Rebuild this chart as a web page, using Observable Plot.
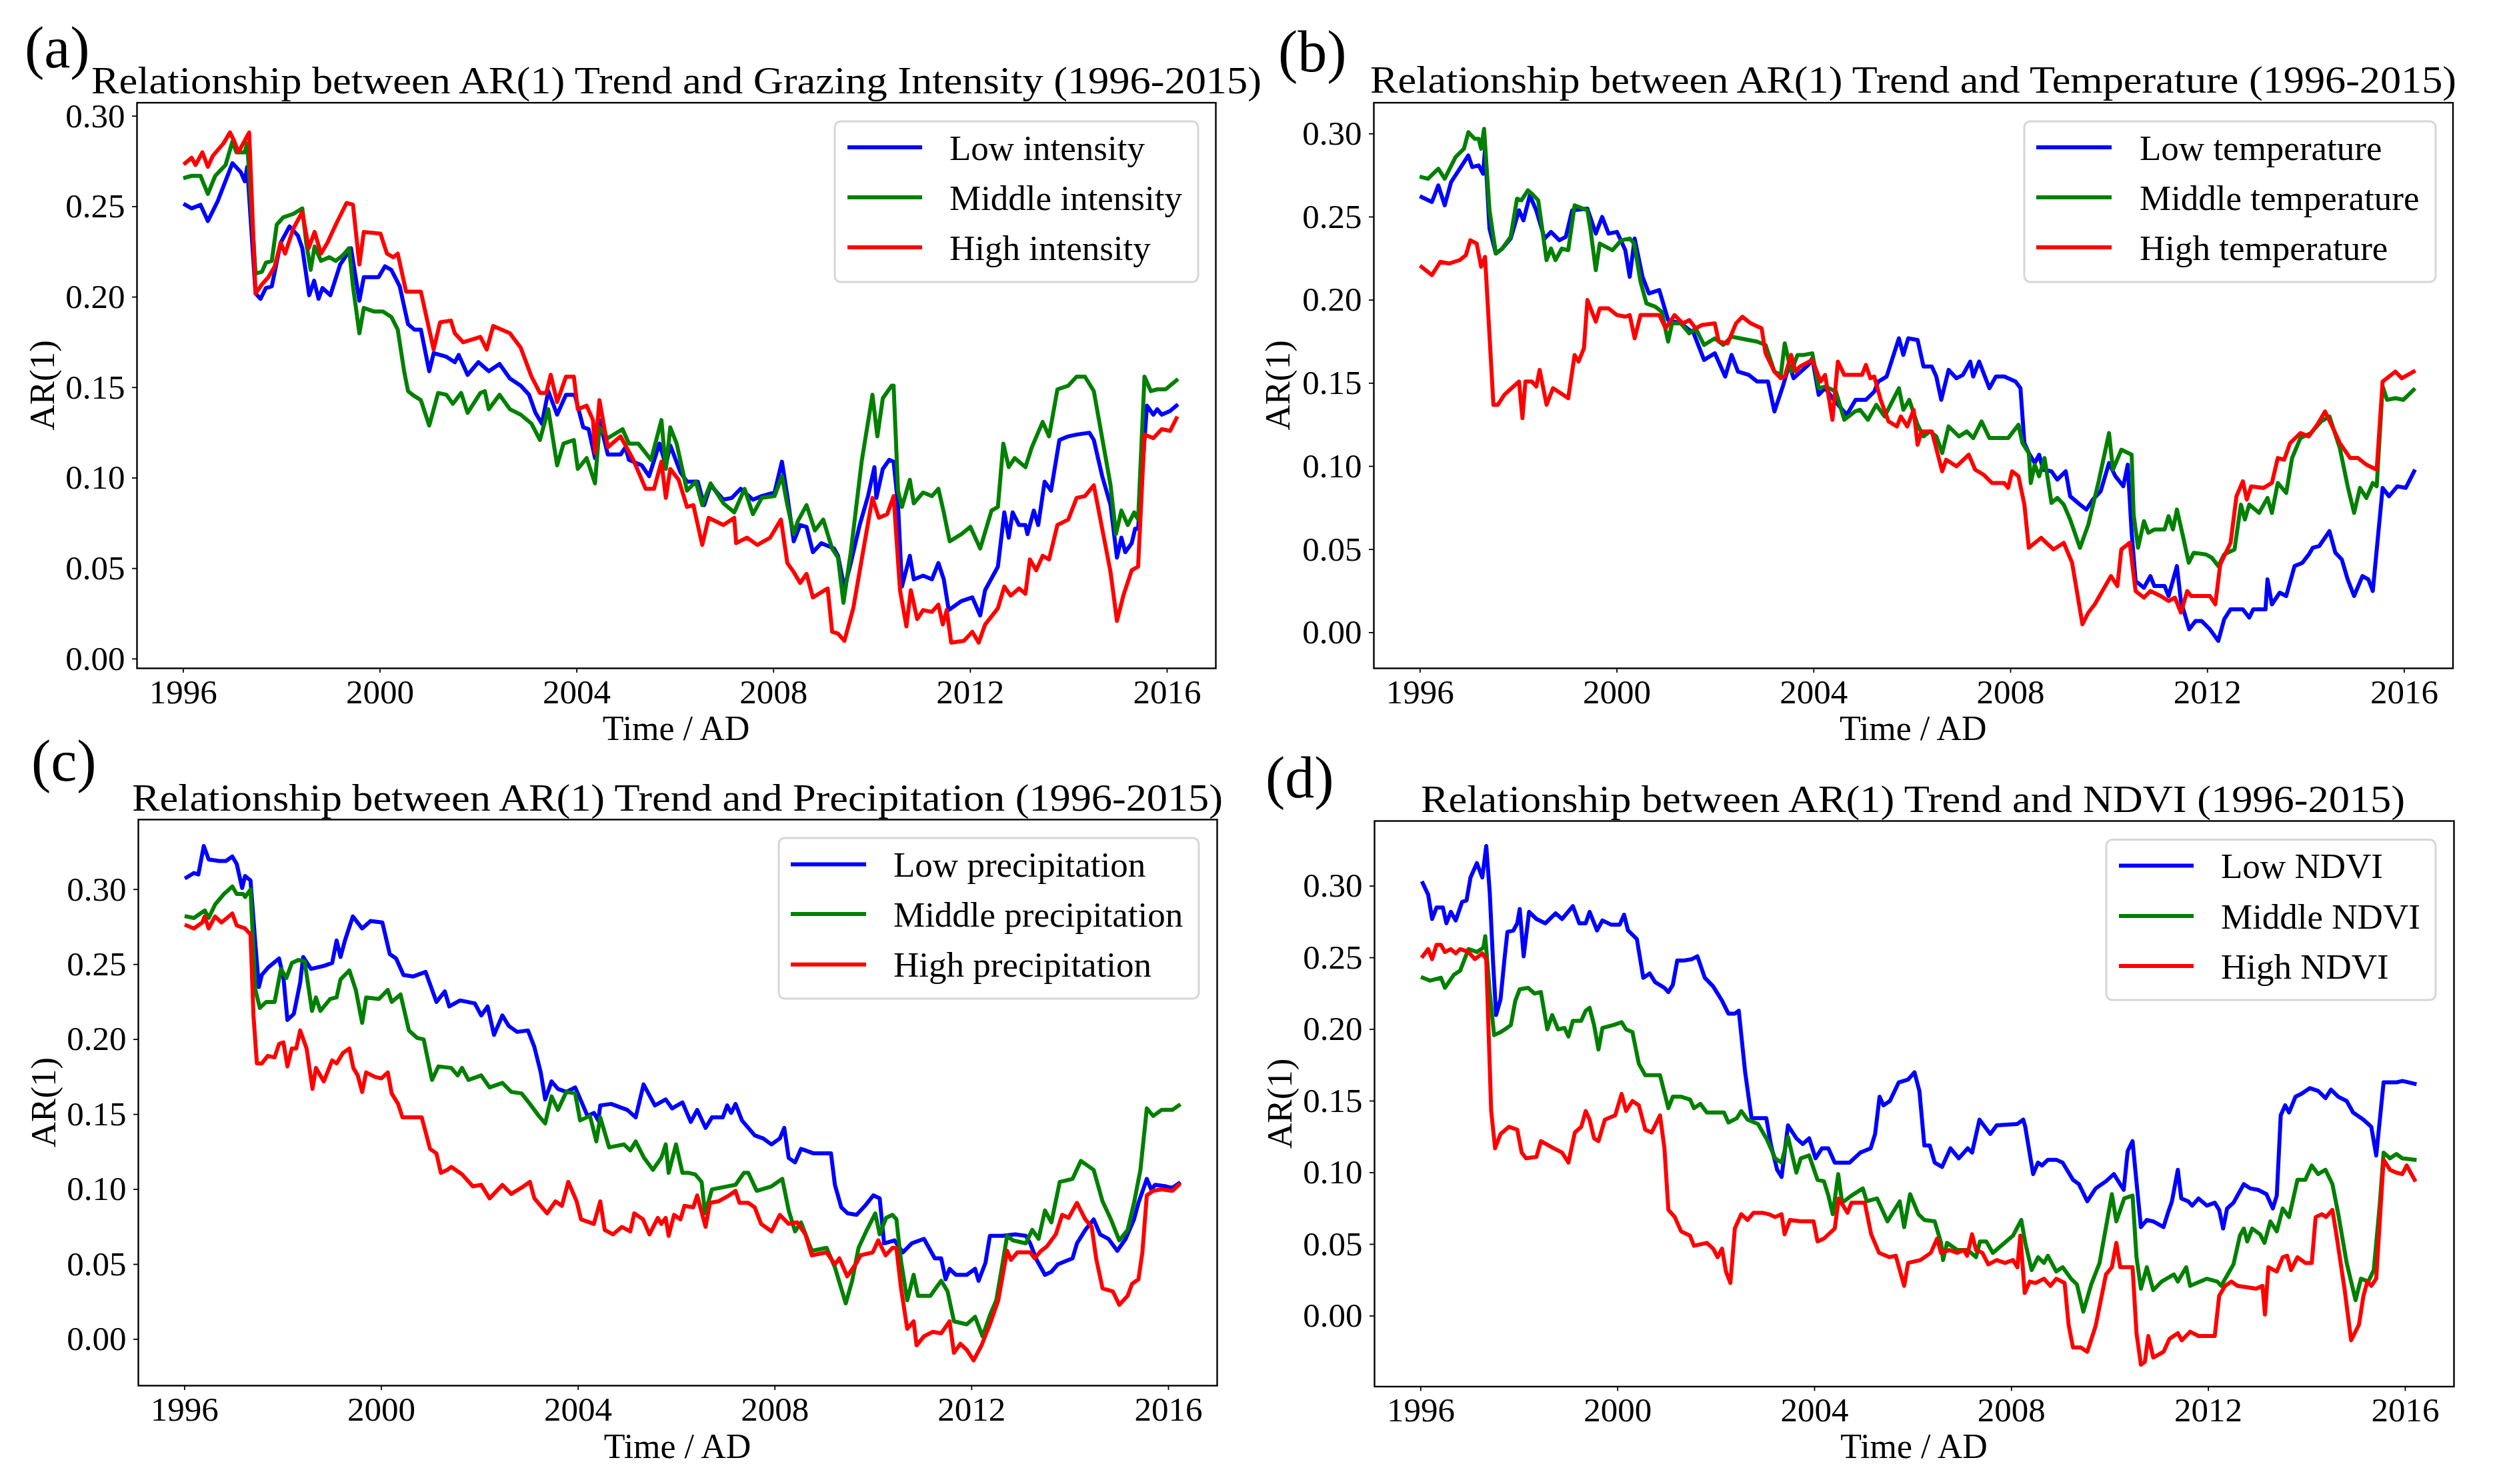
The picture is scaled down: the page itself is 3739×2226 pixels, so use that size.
<!DOCTYPE html>
<html><head><meta charset="utf-8">
<script src="https://cdn.jsdelivr.net/npm/d3@7"></script>
<script src="https://cdn.jsdelivr.net/npm/@observablehq/plot@0.6"></script>
<style>
html,body{margin:0;padding:0;background:#fff;}
#root{position:relative;width:3739px;height:2226px;background:#fff;overflow:hidden;}
#root svg{position:absolute;}
#root svg, #root svg text{font-family:"Liberation Serif","Times New Roman",serif !important;}
</style></head><body><div id="root"></div>
<script>
// ---------------- DATA ----------------
const xTicks = [1996, 2000, 2004, 2008, 2012, 2016];
const yTicks = [0, 0.05, 0.10, 0.15, 0.20, 0.25, 0.30];
const seriesColors = ["#0000ff", "#008000", "#ff0000"];

const grazingLabels = ["Low intensity", "Middle intensity", "High intensity"];
const temperatureLabels = ["Low temperature", "Middle temperature", "High temperature"];
const precipitationLabels = ["Low precipitation", "Middle precipitation", "High precipitation"];
const ndviLabels = ["Low NDVI", "Middle NDVI", "High NDVI"];

// (a) grazing intensity — [year, AR(1)]
const grazingLow = [[1996.04,0.251],[1996.17,0.249],[1996.35,0.251],[1996.5,0.242],[1996.7,0.253],[1997.0,0.274],[1997.17,0.269],[1997.25,0.264],[1997.3,0.272],[1997.47,0.202],[1997.57,0.199],[1997.68,0.205],[1997.8,0.206],[1997.98,0.23],[1998.16,0.239],[1998.33,0.234],[1998.42,0.227],[1998.56,0.201],[1998.66,0.209],[1998.75,0.199],[1998.83,0.205],[1998.99,0.201],[1999.19,0.218],[1999.41,0.227],[1999.58,0.198],[1999.67,0.211],[1999.97,0.211],[2000.1,0.217],[2000.23,0.215],[2000.4,0.206],[2000.57,0.185],[2000.7,0.182],[2000.83,0.182],[2001.0,0.159],[2001.09,0.169],[2001.35,0.167],[2001.52,0.164],[2001.6,0.168],[2001.78,0.157],[2002.0,0.164],[2002.21,0.159],[2002.43,0.163],[2002.64,0.155],[2002.86,0.151],[2003.03,0.146],[2003.16,0.136],[2003.29,0.130],[2003.42,0.148],[2003.6,0.135],[2003.78,0.146],[2003.96,0.146],[2004.13,0.128],[2004.24,0.127],[2004.37,0.111],[2004.46,0.132],[2004.63,0.113],[2004.89,0.113],[2004.99,0.117],[2005.06,0.110],[2005.32,0.107],[2005.47,0.101],[2005.68,0.119],[2005.81,0.107],[2005.9,0.118],[2006.11,0.103],[2006.24,0.098],[2006.46,0.098],[2006.59,0.085],[2006.72,0.096],[2006.98,0.088],[2007.15,0.089],[2007.33,0.094],[2007.58,0.088],[2007.76,0.090],[2008.02,0.092],[2008.17,0.109],[2008.28,0.090],[2008.41,0.065],[2008.54,0.074],[2008.67,0.073],[2008.8,0.059],[2008.97,0.064],[2009.23,0.061],[2009.31,0.057],[2009.44,0.039],[2009.57,0.053],[2009.75,0.074],[2009.92,0.090],[2010.05,0.106],[2010.09,0.089],[2010.22,0.105],[2010.35,0.110],[2010.44,0.109],[2010.53,0.085],[2010.61,0.040],[2010.77,0.057],[2010.85,0.044],[2011.04,0.046],[2011.22,0.044],[2011.35,0.053],[2011.46,0.044],[2011.56,0.027],[2011.82,0.032],[2012.04,0.034],[2012.2,0.024],[2012.3,0.038],[2012.56,0.051],[2012.69,0.081],[2012.78,0.067],[2012.86,0.081],[2012.99,0.074],[2013.12,0.074],[2013.16,0.069],[2013.29,0.082],[2013.38,0.074],[2013.51,0.098],[2013.64,0.093],[2013.81,0.121],[2013.99,0.123],[2014.16,0.124],[2014.42,0.125],[2014.51,0.121],[2014.68,0.101],[2014.85,0.085],[2014.98,0.056],[2015.07,0.067],[2015.15,0.059],[2015.28,0.064],[2015.35,0.072],[2015.41,0.072],[2015.59,0.140],[2015.72,0.135],[2015.8,0.138],[2015.89,0.135],[2016.06,0.137],[2016.19,0.140]];
const grazingMiddle = [[1996.04,0.266],[1996.17,0.267],[1996.35,0.267],[1996.5,0.257],[1996.65,0.267],[1996.86,0.273],[1997.0,0.286],[1997.08,0.280],[1997.25,0.280],[1997.3,0.285],[1997.47,0.213],[1997.6,0.214],[1997.68,0.219],[1997.8,0.220],[1997.9,0.240],[1998.03,0.244],[1998.24,0.246],[1998.42,0.249],[1998.5,0.230],[1998.59,0.215],[1998.67,0.228],[1998.8,0.220],[1998.97,0.222],[1999.1,0.220],[1999.24,0.223],[1999.37,0.227],[1999.45,0.206],[1999.58,0.180],[1999.67,0.194],[1999.88,0.192],[2000.06,0.192],[2000.23,0.189],[2000.36,0.182],[2000.49,0.159],[2000.57,0.148],[2000.66,0.146],[2000.83,0.143],[2001.0,0.129],[2001.18,0.147],[2001.35,0.146],[2001.48,0.141],[2001.65,0.147],[2001.78,0.136],[2002.04,0.147],[2002.13,0.148],[2002.21,0.138],[2002.43,0.146],[2002.64,0.138],[2002.86,0.135],[2003.08,0.130],[2003.25,0.121],[2003.42,0.138],[2003.6,0.107],[2003.73,0.119],[2003.94,0.121],[2004.02,0.105],[2004.2,0.111],[2004.37,0.097],[2004.46,0.128],[2004.63,0.122],[2004.93,0.127],[2005.06,0.119],[2005.25,0.119],[2005.51,0.110],[2005.72,0.132],[2005.81,0.105],[2005.9,0.128],[2006.03,0.119],[2006.24,0.093],[2006.42,0.098],[2006.55,0.085],[2006.72,0.097],[2006.98,0.086],[2007.2,0.081],[2007.41,0.094],[2007.58,0.080],[2007.76,0.089],[2008.02,0.090],[2008.17,0.101],[2008.28,0.085],[2008.41,0.069],[2008.49,0.076],[2008.67,0.085],[2008.84,0.071],[2009.01,0.077],[2009.19,0.061],[2009.31,0.056],[2009.42,0.031],[2009.57,0.059],[2009.79,0.109],[2010.01,0.146],[2010.11,0.123],[2010.22,0.144],[2010.4,0.151],[2010.44,0.151],[2010.53,0.093],[2010.61,0.084],[2010.77,0.099],[2010.85,0.086],[2011.04,0.092],[2011.22,0.090],[2011.35,0.094],[2011.46,0.081],[2011.58,0.065],[2011.82,0.069],[2012.0,0.073],[2012.2,0.061],[2012.43,0.082],[2012.56,0.084],[2012.67,0.119],[2012.78,0.106],[2012.9,0.111],[2013.12,0.106],[2013.25,0.117],[2013.47,0.131],[2013.6,0.123],[2013.77,0.149],[2013.99,0.151],[2014.16,0.156],[2014.33,0.156],[2014.51,0.148],[2014.68,0.122],[2014.85,0.096],[2014.96,0.069],[2015.07,0.082],[2015.2,0.074],[2015.33,0.081],[2015.41,0.077],[2015.54,0.156],[2015.67,0.148],[2015.8,0.149],[2015.97,0.149],[2016.19,0.154]];
const grazingHigh = [[1996.04,0.274],[1996.17,0.277],[1996.25,0.273],[1996.39,0.280],[1996.5,0.272],[1996.6,0.278],[1996.82,0.285],[1996.95,0.291],[1997.04,0.286],[1997.12,0.280],[1997.34,0.291],[1997.47,0.202],[1997.6,0.207],[1997.73,0.211],[1997.86,0.217],[1997.98,0.230],[1998.07,0.224],[1998.24,0.238],[1998.42,0.247],[1998.55,0.227],[1998.67,0.236],[1998.8,0.224],[1998.93,0.230],[1999.1,0.240],[1999.32,0.252],[1999.45,0.251],[1999.58,0.218],[1999.67,0.236],[2000.01,0.235],[2000.14,0.224],[2000.27,0.222],[2000.36,0.224],[2000.53,0.203],[2000.83,0.203],[2001.09,0.171],[2001.22,0.186],[2001.44,0.187],[2001.52,0.180],[2001.69,0.175],[2002.04,0.178],[2002.17,0.171],[2002.3,0.184],[2002.64,0.180],[2002.86,0.172],[2003.08,0.156],[2003.25,0.147],[2003.38,0.147],[2003.47,0.157],[2003.6,0.142],[2003.78,0.156],[2003.94,0.156],[2004.02,0.138],[2004.2,0.140],[2004.33,0.132],[2004.37,0.114],[2004.46,0.143],[2004.63,0.117],[2004.89,0.123],[2005.15,0.110],[2005.4,0.094],[2005.57,0.094],[2005.72,0.109],[2005.81,0.089],[2005.9,0.105],[2006.07,0.099],[2006.24,0.084],[2006.37,0.085],[2006.55,0.063],[2006.68,0.078],[2006.98,0.074],[2007.2,0.078],[2007.24,0.064],[2007.46,0.067],[2007.67,0.063],[2007.93,0.067],[2008.15,0.077],[2008.28,0.053],[2008.41,0.048],[2008.54,0.042],[2008.67,0.047],[2008.8,0.034],[2009.1,0.039],[2009.19,0.015],[2009.31,0.014],[2009.44,0.010],[2009.62,0.028],[2009.83,0.061],[2010.01,0.089],[2010.14,0.078],[2010.31,0.080],[2010.44,0.090],[2010.57,0.038],[2010.7,0.018],[2010.79,0.038],[2010.92,0.022],[2011.04,0.027],[2011.22,0.026],[2011.35,0.030],[2011.44,0.019],[2011.52,0.027],[2011.61,0.009],[2011.87,0.010],[2012.04,0.015],[2012.17,0.009],[2012.3,0.019],[2012.56,0.028],[2012.69,0.040],[2012.82,0.035],[2012.99,0.039],[2013.12,0.036],[2013.21,0.055],[2013.34,0.049],[2013.47,0.057],[2013.6,0.055],[2013.77,0.074],[2013.99,0.077],[2014.16,0.089],[2014.33,0.090],[2014.51,0.096],[2014.68,0.072],[2014.85,0.048],[2014.98,0.021],[2015.11,0.035],[2015.28,0.049],[2015.41,0.051],[2015.54,0.124],[2015.72,0.122],[2015.89,0.127],[2016.06,0.126],[2016.19,0.133]];

// (b) temperature
const temperatureLow = [[1996.03,0.262],[1996.24,0.259],[1996.37,0.269],[1996.5,0.257],[1996.63,0.271],[1996.85,0.281],[1996.98,0.287],[1997.06,0.280],[1997.19,0.281],[1997.28,0.276],[1997.32,0.291],[1997.41,0.243],[1997.54,0.228],[1997.67,0.231],[1997.84,0.237],[1998.01,0.254],[1998.1,0.248],[1998.23,0.263],[1998.36,0.254],[1998.53,0.237],[1998.66,0.241],[1998.83,0.236],[1998.96,0.238],[1999.09,0.254],[1999.4,0.255],[1999.57,0.240],[1999.7,0.250],[1999.83,0.240],[2000.0,0.241],[2000.17,0.230],[2000.26,0.214],[2000.36,0.237],[2000.52,0.214],[2000.65,0.204],[2000.86,0.206],[2001.04,0.188],[2001.3,0.186],[2001.56,0.180],[2001.77,0.164],[2001.99,0.168],[2002.2,0.154],[2002.33,0.167],[2002.46,0.157],[2002.68,0.155],[2002.85,0.151],[2003.07,0.151],[2003.2,0.133],[2003.37,0.148],[2003.5,0.161],[2003.59,0.153],[2003.89,0.161],[2003.97,0.165],[2004.1,0.143],[2004.23,0.147],[2004.41,0.140],[2004.67,0.131],[2004.85,0.140],[2005.06,0.140],[2005.23,0.145],[2005.31,0.151],[2005.48,0.154],[2005.73,0.177],[2005.82,0.167],[2005.92,0.177],[2006.11,0.176],[2006.23,0.160],[2006.4,0.160],[2006.49,0.154],[2006.59,0.140],[2006.74,0.158],[2006.9,0.153],[2007.03,0.155],[2007.18,0.163],[2007.24,0.154],[2007.36,0.163],[2007.57,0.147],[2007.7,0.154],[2007.87,0.154],[2008.1,0.151],[2008.2,0.147],[2008.28,0.114],[2008.37,0.108],[2008.49,0.102],[2008.58,0.107],[2008.66,0.098],[2008.83,0.097],[2008.95,0.092],[2009.12,0.097],[2009.21,0.082],[2009.41,0.077],[2009.54,0.074],[2009.67,0.080],[2009.83,0.085],[2010.0,0.102],[2010.13,0.094],[2010.29,0.088],[2010.38,0.101],[2010.46,0.060],[2010.54,0.031],[2010.71,0.027],[2010.84,0.034],[2010.92,0.028],[2011.13,0.028],[2011.21,0.022],[2011.38,0.040],[2011.46,0.019],[2011.63,0.002],[2011.76,0.007],[2011.88,0.007],[2012.05,0.002],[2012.22,-0.005],[2012.34,0.008],[2012.47,0.014],[2012.72,0.014],[2012.85,0.009],[2012.93,0.014],[2013.18,0.014],[2013.22,0.032],[2013.31,0.017],[2013.47,0.024],[2013.6,0.022],[2013.77,0.040],[2013.93,0.042],[2014.06,0.047],[2014.14,0.051],[2014.27,0.052],[2014.48,0.061],[2014.6,0.048],[2014.73,0.044],[2014.85,0.032],[2014.98,0.022],[2015.15,0.034],[2015.27,0.032],[2015.36,0.025],[2015.56,0.087],[2015.69,0.082],[2015.86,0.088],[2016.03,0.087],[2016.2,0.097]];
const temperatureMiddle = [[1996.03,0.274],[1996.16,0.273],[1996.37,0.279],[1996.5,0.273],[1996.72,0.286],[1996.89,0.291],[1996.98,0.301],[1997.11,0.297],[1997.19,0.297],[1997.24,0.291],[1997.3,0.303],[1997.41,0.254],[1997.54,0.228],[1997.67,0.231],[1997.84,0.238],[1997.97,0.261],[1998.06,0.260],[1998.19,0.266],[1998.27,0.264],[1998.4,0.260],[1998.57,0.224],[1998.66,0.231],[1998.75,0.224],[1998.88,0.231],[1999.01,0.230],[1999.14,0.257],[1999.4,0.254],[1999.46,0.243],[1999.57,0.218],[1999.65,0.234],[1999.91,0.230],[2000.09,0.236],[2000.26,0.237],[2000.35,0.234],[2000.48,0.211],[2000.6,0.198],[2000.78,0.196],[2000.91,0.193],[2001.04,0.175],[2001.12,0.186],[2001.3,0.186],[2001.47,0.180],[2001.6,0.183],[2001.77,0.173],[2001.99,0.177],[2002.16,0.173],[2002.33,0.178],[2002.5,0.177],[2002.85,0.175],[2003.02,0.173],[2003.2,0.157],[2003.33,0.155],[2003.41,0.174],[2003.54,0.157],[2003.67,0.167],[2003.8,0.167],[2003.97,0.168],[2004.1,0.147],[2004.23,0.148],[2004.45,0.145],[2004.62,0.128],[2004.84,0.133],[2004.94,0.134],[2005.1,0.128],[2005.27,0.137],[2005.44,0.130],[2005.73,0.147],[2005.82,0.134],[2005.94,0.140],[2006.11,0.125],[2006.23,0.118],[2006.36,0.121],[2006.49,0.118],[2006.61,0.108],[2006.74,0.124],[2006.95,0.118],[2007.11,0.121],[2007.24,0.117],[2007.41,0.127],[2007.57,0.117],[2007.95,0.117],[2008.16,0.125],[2008.24,0.114],[2008.37,0.108],[2008.41,0.090],[2008.49,0.101],[2008.58,0.094],[2008.69,0.105],[2008.83,0.078],[2008.95,0.081],[2009.08,0.077],[2009.21,0.068],[2009.41,0.051],[2009.58,0.065],[2009.79,0.091],[2010.0,0.120],[2010.08,0.098],[2010.25,0.110],[2010.46,0.107],[2010.5,0.071],[2010.59,0.051],[2010.71,0.067],[2010.8,0.060],[2010.92,0.062],[2011.13,0.062],[2011.21,0.070],[2011.3,0.062],[2011.38,0.074],[2011.51,0.057],[2011.62,0.042],[2011.72,0.048],[2011.97,0.047],[2012.09,0.045],[2012.22,0.040],[2012.34,0.047],[2012.55,0.050],[2012.68,0.077],[2012.76,0.068],[2012.85,0.077],[2013.05,0.072],[2013.22,0.081],[2013.31,0.072],[2013.43,0.090],[2013.6,0.084],[2013.72,0.105],[2013.89,0.117],[2014.1,0.120],[2014.31,0.127],[2014.48,0.130],[2014.69,0.111],[2014.85,0.088],[2014.98,0.072],[2015.1,0.087],[2015.23,0.081],[2015.36,0.090],[2015.44,0.088],[2015.56,0.148],[2015.65,0.140],[2015.82,0.141],[2015.98,0.140],[2016.19,0.146]];
const temperatureHigh = [[1996.03,0.220],[1996.24,0.215],[1996.41,0.223],[1996.59,0.222],[1996.8,0.224],[1996.93,0.227],[1997.02,0.236],[1997.15,0.234],[1997.24,0.220],[1997.32,0.226],[1997.49,0.137],[1997.58,0.137],[1997.71,0.143],[1998.01,0.151],[1998.08,0.129],[1998.14,0.151],[1998.27,0.151],[1998.36,0.148],[1998.43,0.158],[1998.57,0.137],[1998.7,0.147],[1999.01,0.141],[1999.14,0.167],[1999.22,0.163],[1999.33,0.171],[1999.4,0.200],[1999.57,0.187],[1999.65,0.195],[1999.83,0.195],[2000.0,0.191],[2000.17,0.190],[2000.26,0.191],[2000.36,0.177],[2000.48,0.191],[2000.86,0.191],[2000.99,0.183],[2001.17,0.191],[2001.34,0.186],[2001.47,0.188],[2001.6,0.183],[2001.73,0.185],[2001.99,0.186],[2002.07,0.175],[2002.25,0.174],[2002.42,0.186],[2002.55,0.190],[2002.72,0.186],[2002.94,0.183],[2003.02,0.168],[2003.2,0.157],[2003.33,0.153],[2003.41,0.154],[2003.54,0.167],[2003.63,0.157],[2003.72,0.160],[2003.97,0.164],[2004.14,0.151],[2004.23,0.155],[2004.38,0.128],[2004.49,0.163],[2004.62,0.155],[2004.98,0.155],[2005.06,0.161],[2005.15,0.153],[2005.23,0.154],[2005.36,0.140],[2005.52,0.127],[2005.69,0.124],[2005.77,0.130],[2005.9,0.124],[2006.03,0.134],[2006.11,0.113],[2006.19,0.121],[2006.4,0.121],[2006.61,0.097],[2006.69,0.104],[2006.9,0.100],[2007.15,0.107],[2007.28,0.098],[2007.45,0.095],[2007.62,0.090],[2007.87,0.090],[2007.95,0.087],[2008.03,0.097],[2008.16,0.094],[2008.28,0.077],[2008.37,0.051],[2008.62,0.057],[2008.87,0.050],[2009.08,0.054],[2009.25,0.042],[2009.46,0.005],[2009.58,0.012],[2009.71,0.017],[2010.04,0.034],[2010.17,0.028],[2010.25,0.050],[2010.42,0.054],[2010.54,0.025],[2010.71,0.021],[2010.84,0.025],[2011.05,0.022],[2011.21,0.019],[2011.34,0.021],[2011.46,0.012],[2011.59,0.025],[2011.67,0.022],[2012.05,0.022],[2012.16,0.017],[2012.26,0.041],[2012.47,0.054],[2012.59,0.082],[2012.72,0.091],[2012.8,0.080],[2012.89,0.088],[2013.14,0.087],[2013.31,0.090],[2013.43,0.105],[2013.56,0.104],[2013.68,0.114],[2013.89,0.120],[2014.06,0.118],[2014.23,0.125],[2014.39,0.133],[2014.52,0.125],[2014.69,0.114],[2014.9,0.105],[2015.06,0.105],[2015.23,0.101],[2015.44,0.098],[2015.56,0.151],[2015.69,0.154],[2015.82,0.157],[2015.95,0.153],[2016.19,0.157]];

// (c) precipitation
const precipitationLow = [[1996.04,0.308],[1996.19,0.311],[1996.28,0.310],[1996.39,0.329],[1996.49,0.320],[1996.71,0.319],[1996.84,0.319],[1996.97,0.322],[1997.06,0.317],[1997.17,0.301],[1997.23,0.309],[1997.34,0.306],[1997.44,0.263],[1997.51,0.235],[1997.57,0.243],[1997.7,0.248],[1997.92,0.254],[1998.01,0.241],[1998.09,0.213],[1998.22,0.217],[1998.35,0.238],[1998.41,0.255],[1998.57,0.247],[1998.83,0.249],[1999.0,0.251],[1999.09,0.266],[1999.17,0.255],[1999.26,0.266],[1999.42,0.282],[1999.61,0.274],[1999.78,0.279],[2000.02,0.278],[2000.17,0.257],[2000.3,0.254],[2000.45,0.243],[2000.65,0.242],[2000.9,0.245],[2001.12,0.225],[2001.29,0.232],[2001.38,0.222],[2001.6,0.226],[2001.9,0.224],[2002.03,0.216],[2002.16,0.222],[2002.29,0.203],[2002.46,0.216],[2002.59,0.209],[2002.76,0.205],[2002.98,0.206],[2003.11,0.195],[2003.24,0.178],[2003.33,0.160],[2003.46,0.172],[2003.59,0.167],[2003.76,0.165],[2003.94,0.168],[2004.06,0.159],[2004.19,0.149],[2004.32,0.151],[2004.41,0.146],[2004.45,0.156],[2004.67,0.157],[2005.0,0.153],[2005.17,0.148],[2005.33,0.170],[2005.56,0.156],[2005.78,0.160],[2005.91,0.154],[2006.12,0.158],[2006.29,0.145],[2006.42,0.153],[2006.59,0.141],[2006.72,0.148],[2006.94,0.148],[2007.03,0.156],[2007.11,0.151],[2007.2,0.157],[2007.33,0.146],[2007.46,0.141],[2007.59,0.136],[2007.76,0.134],[2007.93,0.130],[2008.1,0.134],[2008.19,0.141],[2008.28,0.121],[2008.41,0.118],[2008.53,0.127],[2008.62,0.126],[2008.79,0.124],[2009.14,0.124],[2009.22,0.103],[2009.35,0.088],[2009.48,0.084],[2009.66,0.083],[2009.83,0.089],[2010.0,0.096],[2010.13,0.094],[2010.22,0.064],[2010.43,0.066],[2010.6,0.058],[2010.78,0.064],[2011.03,0.067],[2011.25,0.054],[2011.38,0.054],[2011.47,0.040],[2011.55,0.047],[2011.68,0.043],[2011.9,0.043],[2012.07,0.047],[2012.14,0.039],[2012.28,0.051],[2012.37,0.069],[2012.63,0.069],[2012.89,0.070],[2013.1,0.069],[2013.19,0.064],[2013.32,0.053],[2013.49,0.043],[2013.62,0.045],[2013.75,0.050],[2014.05,0.054],[2014.14,0.064],[2014.31,0.073],[2014.48,0.080],[2014.61,0.070],[2014.78,0.067],[2014.96,0.059],[2015.13,0.067],[2015.3,0.080],[2015.39,0.091],[2015.56,0.107],[2015.65,0.100],[2015.73,0.103],[2015.95,0.102],[2016.08,0.101],[2016.21,0.104]];
const precipitationMiddle = [[1996.04,0.282],[1996.19,0.281],[1996.32,0.284],[1996.41,0.286],[1996.49,0.281],[1996.62,0.290],[1996.8,0.297],[1996.97,0.302],[1997.06,0.297],[1997.19,0.297],[1997.23,0.295],[1997.34,0.300],[1997.44,0.233],[1997.53,0.221],[1997.66,0.225],[1997.83,0.225],[1997.96,0.247],[1998.07,0.241],[1998.18,0.251],[1998.31,0.253],[1998.44,0.252],[1998.59,0.219],[1998.67,0.228],[1998.76,0.219],[1998.96,0.227],[1999.09,0.228],[1999.17,0.240],[1999.35,0.246],[1999.48,0.233],[1999.61,0.211],[1999.69,0.228],[1999.95,0.227],[2000.13,0.233],[2000.21,0.225],[2000.39,0.230],[2000.56,0.206],[2000.73,0.201],[2000.86,0.200],[2001.03,0.173],[2001.16,0.182],[2001.42,0.181],[2001.55,0.176],[2001.64,0.181],[2001.77,0.173],[2002.03,0.176],[2002.2,0.168],[2002.46,0.171],[2002.64,0.165],[2002.85,0.164],[2003.02,0.157],[2003.2,0.149],[2003.33,0.144],[2003.46,0.162],[2003.59,0.153],[2003.76,0.165],[2003.94,0.164],[2004.04,0.146],[2004.24,0.149],[2004.37,0.132],[2004.45,0.148],[2004.63,0.128],[2004.93,0.130],[2005.06,0.126],[2005.17,0.132],[2005.34,0.121],[2005.52,0.113],[2005.69,0.121],[2005.78,0.130],[2005.84,0.111],[2005.99,0.130],[2006.12,0.111],[2006.25,0.111],[2006.38,0.110],[2006.51,0.105],[2006.58,0.084],[2006.72,0.100],[2007.03,0.102],[2007.2,0.103],[2007.37,0.111],[2007.46,0.111],[2007.63,0.099],[2007.93,0.102],[2008.15,0.107],[2008.28,0.086],[2008.41,0.072],[2008.53,0.078],[2008.75,0.059],[2009.05,0.061],[2009.22,0.048],[2009.44,0.024],[2009.57,0.039],[2009.7,0.061],[2009.87,0.073],[2010.04,0.084],[2010.13,0.070],[2010.26,0.081],[2010.39,0.083],[2010.47,0.080],[2010.56,0.053],[2010.69,0.026],[2010.82,0.043],[2010.91,0.029],[2011.16,0.029],[2011.29,0.035],[2011.38,0.039],[2011.51,0.032],[2011.64,0.012],[2011.9,0.010],[2012.07,0.015],[2012.22,0.002],[2012.37,0.016],[2012.5,0.026],[2012.63,0.051],[2012.72,0.069],[2012.84,0.066],[2013.1,0.064],[2013.23,0.073],[2013.36,0.067],[2013.49,0.086],[2013.62,0.078],[2013.79,0.105],[2014.05,0.107],[2014.22,0.119],[2014.48,0.113],[2014.66,0.092],[2014.83,0.080],[2015.0,0.066],[2015.17,0.073],[2015.3,0.091],[2015.43,0.113],[2015.56,0.154],[2015.69,0.149],[2015.86,0.153],[2016.08,0.153],[2016.21,0.156]];
const precipitationHigh = [[1996.04,0.276],[1996.19,0.274],[1996.36,0.278],[1996.41,0.282],[1996.49,0.274],[1996.62,0.282],[1996.75,0.278],[1996.97,0.284],[1997.06,0.276],[1997.23,0.274],[1997.34,0.270],[1997.4,0.216],[1997.47,0.184],[1997.57,0.184],[1997.69,0.189],[1997.83,0.188],[1997.92,0.197],[1998.01,0.198],[1998.09,0.182],[1998.18,0.194],[1998.27,0.194],[1998.35,0.206],[1998.48,0.194],[1998.6,0.167],[1998.67,0.181],[1998.83,0.172],[1999.0,0.186],[1999.09,0.184],[1999.22,0.191],[1999.35,0.194],[1999.43,0.181],[1999.52,0.176],[1999.61,0.165],[1999.69,0.178],[1999.87,0.175],[2000.0,0.174],[2000.13,0.178],[2000.21,0.164],[2000.34,0.157],[2000.43,0.148],[2000.82,0.148],[2000.99,0.127],[2001.12,0.124],[2001.21,0.111],[2001.34,0.113],[2001.42,0.115],[2001.64,0.110],[2001.86,0.102],[2002.03,0.103],[2002.2,0.094],[2002.46,0.103],[2002.64,0.097],[2002.89,0.102],[2003.02,0.105],[2003.11,0.094],[2003.37,0.084],[2003.54,0.092],[2003.67,0.089],[2003.8,0.105],[2003.97,0.092],[2004.06,0.080],[2004.32,0.077],[2004.45,0.092],[2004.54,0.073],[2004.71,0.070],[2004.89,0.075],[2005.06,0.072],[2005.14,0.084],[2005.32,0.080],[2005.45,0.070],[2005.62,0.081],[2005.69,0.077],[2005.78,0.081],[2005.84,0.069],[2005.95,0.083],[2006.08,0.080],[2006.16,0.089],[2006.34,0.088],[2006.42,0.096],[2006.59,0.075],[2006.68,0.091],[2006.85,0.092],[2007.07,0.096],[2007.2,0.099],[2007.28,0.091],[2007.46,0.091],[2007.59,0.088],[2007.72,0.077],[2007.93,0.072],[2008.1,0.083],[2008.28,0.077],[2008.45,0.078],[2008.62,0.070],[2008.75,0.056],[2009.05,0.058],[2009.22,0.050],[2009.31,0.054],[2009.47,0.042],[2009.66,0.051],[2009.74,0.056],[2009.99,0.058],[2010.1,0.066],[2010.25,0.056],[2010.39,0.061],[2010.47,0.061],[2010.56,0.035],[2010.69,0.007],[2010.82,0.012],[2010.88,-0.004],[2011.03,0.002],[2011.21,0.005],[2011.38,0.004],[2011.55,0.012],[2011.64,-0.009],[2011.77,-0.003],[2011.9,-0.007],[2012.04,-0.014],[2012.2,-0.004],[2012.37,0.010],[2012.54,0.026],[2012.72,0.059],[2012.8,0.053],[2012.93,0.058],[2013.19,0.058],[2013.28,0.054],[2013.41,0.059],[2013.53,0.062],[2013.71,0.070],[2013.84,0.083],[2013.97,0.081],[2014.14,0.091],[2014.31,0.080],[2014.44,0.075],[2014.53,0.054],[2014.66,0.034],[2014.87,0.032],[2015.0,0.023],[2015.17,0.029],[2015.26,0.037],[2015.39,0.040],[2015.47,0.058],[2015.56,0.096],[2015.69,0.099],[2015.86,0.100],[2016.08,0.099],[2016.21,0.103]];

// (d) NDVI
const ndviLow = [[1996.04,0.302],[1996.15,0.294],[1996.23,0.277],[1996.32,0.285],[1996.45,0.285],[1996.52,0.274],[1996.61,0.282],[1996.71,0.276],[1996.84,0.289],[1996.93,0.290],[1997.01,0.306],[1997.14,0.316],[1997.25,0.306],[1997.33,0.328],[1997.4,0.296],[1997.47,0.246],[1997.53,0.210],[1997.62,0.221],[1997.7,0.249],[1997.76,0.268],[1997.88,0.269],[1997.96,0.274],[1998.01,0.284],[1998.09,0.251],[1998.2,0.282],[1998.35,0.277],[1998.53,0.274],[1998.74,0.281],[1998.87,0.277],[1999.09,0.286],[1999.22,0.274],[1999.35,0.274],[1999.43,0.282],[1999.58,0.269],[1999.69,0.276],[1999.87,0.273],[2000.04,0.273],[2000.13,0.280],[2000.21,0.269],[2000.39,0.263],[2000.52,0.236],[2000.65,0.239],[2000.76,0.233],[2000.95,0.229],[2001.03,0.226],[2001.12,0.231],[2001.21,0.248],[2001.34,0.248],[2001.51,0.249],[2001.62,0.251],[2001.77,0.236],[2001.94,0.230],[2002.12,0.220],[2002.25,0.211],[2002.38,0.211],[2002.46,0.213],[2002.59,0.170],[2002.72,0.138],[2003.02,0.138],[2003.11,0.120],[2003.24,0.102],[2003.33,0.097],[2003.46,0.133],[2003.63,0.124],[2003.76,0.120],[2003.89,0.124],[2004.02,0.110],[2004.15,0.117],[2004.28,0.117],[2004.41,0.107],[2004.71,0.107],[2004.93,0.114],[2005.14,0.117],[2005.23,0.127],[2005.32,0.153],[2005.4,0.147],[2005.53,0.150],[2005.71,0.163],[2005.9,0.165],[2006.03,0.170],[2006.13,0.157],[2006.23,0.119],[2006.34,0.119],[2006.44,0.107],[2006.59,0.104],[2006.76,0.117],[2006.93,0.110],[2007.11,0.117],[2007.2,0.114],[2007.35,0.137],[2007.57,0.127],[2007.7,0.133],[2008.12,0.134],[2008.24,0.137],[2008.28,0.132],[2008.44,0.099],[2008.54,0.107],[2008.62,0.105],[2008.74,0.109],[2008.91,0.109],[2009.04,0.107],[2009.25,0.095],[2009.37,0.092],[2009.54,0.080],[2009.71,0.089],[2009.92,0.094],[2010.08,0.099],[2010.28,0.088],[2010.36,0.115],[2010.46,0.122],[2010.53,0.097],[2010.63,0.062],[2010.75,0.067],[2010.88,0.066],[2011.09,0.062],[2011.17,0.071],[2011.26,0.080],[2011.38,0.102],[2011.45,0.082],[2011.59,0.080],[2011.67,0.077],[2011.8,0.082],[2011.97,0.077],[2012.13,0.079],[2012.22,0.074],[2012.3,0.061],[2012.38,0.075],[2012.51,0.079],[2012.72,0.092],[2012.85,0.089],[2013.01,0.088],[2013.18,0.085],[2013.31,0.075],[2013.39,0.084],[2013.47,0.140],[2013.56,0.147],[2013.64,0.142],[2013.77,0.153],[2013.89,0.155],[2014.06,0.159],[2014.23,0.157],[2014.38,0.152],[2014.49,0.158],[2014.64,0.153],[2014.81,0.150],[2014.94,0.142],[2015.15,0.137],[2015.31,0.132],[2015.41,0.112],[2015.56,0.163],[2015.82,0.163],[2015.94,0.164],[2016.19,0.162]];
const ndviMiddle = [[1996.04,0.236],[1996.19,0.234],[1996.41,0.236],[1996.49,0.229],[1996.67,0.238],[1996.8,0.241],[1996.97,0.256],[1997.14,0.254],[1997.27,0.257],[1997.31,0.265],[1997.4,0.226],[1997.49,0.196],[1997.62,0.198],[1997.75,0.201],[1997.83,0.203],[1997.92,0.220],[1998.01,0.228],[1998.18,0.229],[1998.31,0.225],[1998.44,0.226],[1998.57,0.200],[1998.67,0.210],[1998.79,0.200],[1998.92,0.201],[1999.0,0.195],[1999.09,0.206],[1999.26,0.206],[1999.35,0.213],[1999.43,0.215],[1999.52,0.203],[1999.61,0.186],[1999.69,0.201],[1999.91,0.203],[2000.08,0.205],[2000.17,0.200],[2000.3,0.198],[2000.43,0.176],[2000.56,0.168],[2000.86,0.168],[2001.03,0.145],[2001.12,0.153],[2001.29,0.153],[2001.47,0.151],[2001.55,0.145],[2001.68,0.148],[2001.81,0.142],[2002.16,0.142],[2002.25,0.135],[2002.42,0.138],[2002.51,0.143],[2002.64,0.137],[2002.85,0.134],[2003.02,0.124],[2003.2,0.110],[2003.33,0.107],[2003.46,0.125],[2003.63,0.100],[2003.72,0.110],[2003.89,0.112],[2004.06,0.095],[2004.19,0.094],[2004.28,0.084],[2004.37,0.071],[2004.48,0.099],[2004.56,0.079],[2004.75,0.084],[2004.98,0.089],[2005.06,0.080],[2005.27,0.082],[2005.48,0.066],[2005.73,0.080],[2005.82,0.062],[2005.94,0.085],[2006.11,0.071],[2006.23,0.067],[2006.44,0.066],[2006.57,0.051],[2006.61,0.039],[2006.69,0.051],[2006.9,0.046],[2007.11,0.046],[2007.28,0.041],[2007.36,0.052],[2007.49,0.052],[2007.62,0.044],[2008.03,0.056],[2008.2,0.067],[2008.28,0.051],[2008.41,0.032],[2008.54,0.041],[2008.66,0.037],[2008.74,0.042],[2008.91,0.031],[2009.04,0.034],[2009.21,0.026],[2009.33,0.022],[2009.46,0.003],[2009.62,0.022],[2009.79,0.037],[2010.04,0.085],[2010.13,0.066],[2010.29,0.082],[2010.46,0.084],[2010.54,0.041],[2010.63,0.019],[2010.75,0.034],[2010.88,0.018],[2011.05,0.024],[2011.3,0.029],[2011.38,0.024],[2011.55,0.034],[2011.63,0.021],[2011.97,0.026],[2012.18,0.024],[2012.26,0.021],[2012.51,0.036],[2012.64,0.056],[2012.72,0.061],[2012.79,0.052],[2012.89,0.061],[2013.05,0.057],[2013.14,0.051],[2013.26,0.066],[2013.39,0.059],[2013.51,0.075],[2013.64,0.069],[2013.81,0.095],[2013.97,0.095],[2014.1,0.105],[2014.23,0.099],[2014.38,0.102],[2014.52,0.092],[2014.64,0.071],[2014.81,0.037],[2014.99,0.011],[2015.1,0.026],[2015.25,0.024],[2015.36,0.032],[2015.48,0.077],[2015.56,0.114],[2015.69,0.110],[2015.82,0.113],[2015.94,0.110],[2016.19,0.109]];
const ndviHigh = [[1996.04,0.251],[1996.15,0.256],[1996.23,0.249],[1996.32,0.259],[1996.41,0.259],[1996.49,0.254],[1996.61,0.256],[1996.71,0.253],[1996.8,0.256],[1996.97,0.254],[1997.1,0.249],[1997.25,0.253],[1997.33,0.249],[1997.38,0.196],[1997.43,0.143],[1997.51,0.117],[1997.62,0.127],[1997.79,0.132],[1997.96,0.130],[1998.05,0.114],[1998.14,0.110],[1998.35,0.111],[1998.44,0.122],[1998.7,0.117],[1998.87,0.114],[1999.0,0.107],[1999.13,0.128],[1999.26,0.132],[1999.35,0.143],[1999.43,0.137],[1999.52,0.124],[1999.61,0.122],[1999.74,0.137],[1999.95,0.140],[2000.08,0.155],[2000.17,0.143],[2000.3,0.150],[2000.43,0.147],[2000.56,0.130],[2000.69,0.128],[2000.86,0.140],[2000.95,0.117],[2001.03,0.074],[2001.16,0.069],[2001.29,0.059],[2001.47,0.056],[2001.55,0.049],[2001.81,0.051],[2001.94,0.047],[2002.03,0.041],[2002.12,0.047],[2002.2,0.031],[2002.29,0.023],[2002.38,0.061],[2002.51,0.071],[2002.64,0.067],[2002.76,0.072],[2002.94,0.072],[2003.07,0.071],[2003.2,0.069],[2003.33,0.071],[2003.39,0.057],[2003.5,0.067],[2003.72,0.066],[2003.98,0.066],[2004.06,0.052],[2004.19,0.054],[2004.41,0.061],[2004.49,0.082],[2004.67,0.072],[2004.75,0.079],[2005.02,0.079],[2005.15,0.057],[2005.31,0.044],[2005.52,0.041],[2005.65,0.042],[2005.82,0.021],[2005.9,0.037],[2006.15,0.039],[2006.36,0.044],[2006.49,0.054],[2006.57,0.044],[2006.74,0.046],[2006.9,0.044],[2007.03,0.046],[2007.1,0.042],[2007.2,0.057],[2007.28,0.046],[2007.41,0.044],[2007.53,0.036],[2007.7,0.039],[2007.87,0.037],[2008.03,0.039],[2008.12,0.034],[2008.18,0.056],[2008.27,0.016],[2008.37,0.024],[2008.49,0.023],[2008.66,0.026],[2008.79,0.021],[2008.91,0.026],[2009.08,0.023],[2009.16,-0.006],[2009.25,-0.022],[2009.41,-0.022],[2009.54,-0.025],[2009.71,-0.007],[2009.92,0.029],[2010.04,0.034],[2010.13,0.051],[2010.21,0.034],[2010.46,0.034],[2010.54,-0.012],[2010.63,-0.034],[2010.71,-0.032],[2010.78,-0.014],[2010.88,-0.029],[2011.09,-0.025],[2011.21,-0.016],[2011.38,-0.012],[2011.46,-0.017],[2011.63,-0.011],[2011.8,-0.014],[2012.13,-0.014],[2012.22,0.014],[2012.34,0.021],[2012.47,0.024],[2012.59,0.021],[2012.97,0.019],[2013.1,0.021],[2013.15,0.001],[2013.22,0.034],[2013.39,0.031],[2013.51,0.041],[2013.6,0.042],[2013.68,0.032],[2013.81,0.041],[2013.97,0.037],[2014.1,0.037],[2014.18,0.069],[2014.31,0.071],[2014.39,0.069],[2014.52,0.074],[2014.6,0.057],[2014.77,0.018],[2014.9,-0.017],[2015.06,-0.006],[2015.15,0.014],[2015.23,0.024],[2015.31,0.021],[2015.41,0.026],[2015.56,0.109],[2015.69,0.102],[2015.82,0.100],[2015.94,0.099],[2016.03,0.105],[2016.19,0.095]];

// ---------------- LAYOUT ----------------
const FONT = '"Liberation Serif", "Times New Roman", serif';
const xDomain = [1995.06, 2016.99];
const panels = [
  { letter: "(a)", titleText: "Relationship between AR(1) Trend and Grazing Intensity (1996-2015)",
    labels: grazingLabels, series: [grazingLow, grazingMiddle, grazingHigh],
    yDomain: [-0.0052, 0.3074], frame: {x0: 205, x1: 1823, y0: 153.6, y1: 1002},
    svg: {left: 0, top: 100, width: 1870, height: 980},
    titlePos: {x0: 137, x1: 1892, y: 140}, letterPos: [37, 101], yLabelX: 62, xLabelY: 1110,
    legend: {x: 1252, y: 182, w: 545, h: 241, lx0: 1271, lx1: 1383, tx: 1424, rows: [221, 296, 371]} },
  { letter: "(b)", titleText: "Relationship between AR(1) Trend and Temperature (1996-2015)",
    labels: temperatureLabels, series: [temperatureLow, temperatureMiddle, temperatureHigh],
    yDomain: [-0.0215, 0.3187], frame: {x0: 2060, x1: 3678.5, y0: 153.6, y1: 1002},
    svg: {left: 1870, top: 100, width: 1869, height: 980},
    titlePos: {x0: 2055, x1: 3684, y: 139}, letterPos: [1917, 107], yLabelX: 1915, xLabelY: 1110,
    legend: {x: 3036, y: 182, w: 617, h: 241, lx0: 3054, lx1: 3167, tx: 3209, rows: [221, 296, 371]} },
  { letter: "(c)", titleText: "Relationship between AR(1) Trend and Precipitation (1996-2015)",
    labels: precipitationLabels, series: [precipitationLow, precipitationMiddle, precipitationHigh],
    yDomain: [-0.0309, 0.3466], frame: {x0: 207, x1: 1825, y0: 1228.9, y1: 2078},
    svg: {left: 0, top: 1180, width: 1870, height: 980},
    titlePos: {x0: 198, x1: 1834, y: 1216}, letterPos: [47, 1171], yLabelX: 64, xLabelY: 2187,
    legend: {x: 1168, y: 1257, w: 630, h: 241, lx0: 1186, lx1: 1299, tx: 1340, rows: [1296.5, 1371, 1446.7]} },
  { letter: "(d)", titleText: "Relationship between AR(1) Trend and NDVI (1996-2015)",
    labels: ndviLabels, series: [ndviLow, ndviMiddle, ndviHigh],
    yDomain: [-0.0493, 0.3454], frame: {x0: 2061, x1: 3680, y0: 1231, y1: 2079.4},
    svg: {left: 1870, top: 1180, width: 1869, height: 980},
    titlePos: {x0: 2131, x1: 3607, y: 1218}, letterPos: [1898, 1196], yLabelX: 1918, xLabelY: 2187,
    legend: {x: 3159, y: 1259.5, w: 494, h: 240.5, lx0: 3178, lx1: 3290, tx: 3331, rows: [1298.6, 1374, 1449]} }
];

const root = document.getElementById("root");

for (const p of panels) {
  const rows = [];
  p.series.forEach((s, i) => s.forEach(([t, v]) => rows.push({t, v, s: p.labels[i]})));
  const f = p.frame, sv = p.svg;
  const chart = Plot.plot({
    width: sv.width, height: sv.height,
    marginLeft: f.x0 - sv.left, marginRight: sv.left + sv.width - f.x1,
    marginTop: f.y0 - sv.top, marginBottom: sv.top + sv.height - f.y1,
    x: {domain: xDomain, label: null},
    y: {domain: p.yDomain, label: null},
    color: {domain: p.labels, range: seriesColors},
    style: {fontFamily: FONT, fontSize: "51px", color: "#000", background: "transparent", overflow: "visible"},
    marks: [
      Plot.line(rows, {x: "t", y: "v", z: "s", stroke: "s", strokeWidth: 6, strokeLinejoin: "round", strokeLinecap: "square"}),
      Plot.frame({stroke: "#000", strokeWidth: 2.4, strokeOpacity: 1}),
      Plot.axisX(xTicks, {anchor: "bottom", tickSize: 7, tickPadding: 9, strokeWidth: 1.8, fontSize: 51, tickFormat: d => String(d), label: null}),
      Plot.axisY(yTicks, {anchor: "left", tickSize: 7, tickPadding: 11, strokeWidth: 1.8, fontSize: 51, tickFormat: d3.format(".2f"), label: null})
    ]
  });
  chart.style.left = sv.left + "px";
  chart.style.top = sv.top + "px";
  root.appendChild(chart);
}

// ---------- annotations overlay (titles, labels, legends) ----------
const ov = d3.select(root).append("svg")
  .attr("width", 3739).attr("height", 2226)
  .style("left", "0px").style("top", "0px")
  .style("font-family", FONT).style("pointer-events", "none");

for (const p of panels) {
  const f = p.frame, cx = (f.x0 + f.x1) / 2, cy = (f.y0 + f.y1) / 2;
  const T = p.titlePos;
  ov.append("text").attr("x", T.x0).attr("y", T.y)
    .attr("font-family", FONT).attr("font-size", 57).attr("fill", "#000")
    .attr("textLength", T.x1 - T.x0).attr("lengthAdjust", "spacingAndGlyphs").text(p.titleText);
  ov.append("text").attr("x", p.letterPos[0]).attr("y", p.letterPos[1])
    .attr("font-family", FONT).attr("font-size", 88).attr("fill", "#000").text(p.letter);
  ov.append("text").attr("transform", `translate(${p.yLabelX},${cy}) rotate(-90)`)
    .attr("text-anchor", "middle").attr("dy", "0.35em")
    .attr("font-family", FONT).attr("font-size", 53).attr("fill", "#000").text("AR(1)");
  ov.append("text").attr("x", cx).attr("y", p.xLabelY).attr("text-anchor", "middle")
    .attr("font-family", FONT).attr("font-size", 52).attr("fill", "#000").text("Time / AD");
  const L = p.legend;
  ov.append("rect").attr("x", L.x).attr("y", L.y).attr("width", L.w).attr("height", L.h)
    .attr("rx", 9).attr("fill", "#fff").attr("fill-opacity", 0.8)
    .attr("stroke", "#d6d6d6").attr("stroke-width", 3);
  p.labels.forEach((lab, i) => {
    ov.append("line").attr("x1", L.lx0).attr("x2", L.lx1).attr("y1", L.rows[i]).attr("y2", L.rows[i])
      .attr("stroke", seriesColors[i]).attr("stroke-width", 6);
    ov.append("text").attr("x", L.tx).attr("y", L.rows[i]).attr("dy", "0.35em")
      .attr("font-family", FONT).attr("font-size", 53).attr("fill", "#000").text(lab);
  });
}
</script></body></html>
